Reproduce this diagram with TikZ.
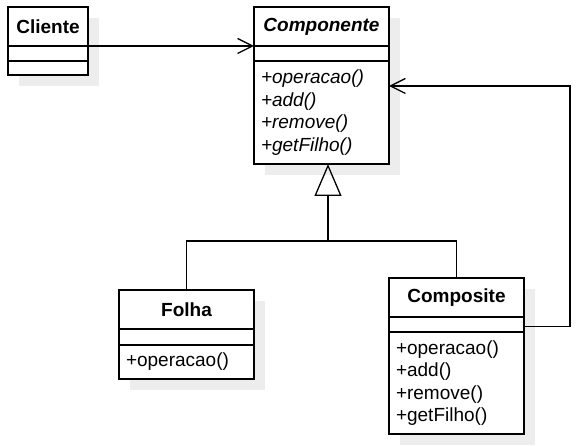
\documentclass[tikz,border=0pt]{standalone}
\usepackage{fontspec}
\setmainfont{Liberation Sans}
\usetikzlibrary{positioning,arrows.meta,backgrounds}
\tikzset{
  cls/.style = {draw, fill=white, line width=1.3pt, outer sep=0pt, minimum width=135pt, inner xsep=7pt, inner ysep=0pt},
  head/.style = {cls, minimum height=39pt, font=\bfseries},
  ops/.style = {cls, align=left, text width=121pt},
  shadowfill/.style = {fill=black!7},
  assoc/.style = {line width=1.3pt, -{Straight Barb[length=15pt,width=15pt]}},
  inherit/.style = {line width=1.3pt, -{Triangle[open,length=32pt,width=27pt]}}
}
\begin{document}
\fontsize{19}{22.5}\selectfont
\begin{tikzpicture}[x=1pt, y=-1pt]
  \useasboundingbox (0,0) rectangle (587,446);

  \node[head, minimum width=80pt, anchor=north west] at (8,7) (cli) {Cliente};
  \node[cls, minimum width=80pt, minimum height=15pt, below=0pt of cli] (cliA) {};
  \node[cls, minimum width=80pt, minimum height=14pt, below=0pt of cliA] (cliO) {};

  \node[head, font=\bfseries\itshape, anchor=north west] at (254,7) (comp) {Componente};
  \node[cls, minimum height=15pt, below=0pt of comp] (compA) {};
  \node[ops, font=\itshape, minimum height=103pt, below=0pt of compA] (compM) {+operacao()\\+add()\\+remove()\\+getFilho()};

  \node[head, anchor=north west] at (119,290) (folha) {Folha};
  \node[cls, minimum height=16pt, below=0pt of folha] (folhaA) {};
  \node[ops, minimum height=34pt, below=0pt of folhaA] (folhaM) {+operacao()};

  \node[head, anchor=north west] at (389,278) (compo) {Composite};
  \node[cls, minimum height=15pt, below=0pt of compo] (compoA) {};
  \node[ops, minimum height=102pt, below=0pt of compoA] (compoM) {+operacao()\\+add()\\+remove()\\+getFilho()};

  \coordinate (join) at (328,241);
  \draw[assoc] (cli.south east) -- (comp.south west);
  \draw[line width=1.3pt] (folha.north) |- (join) -| (compo.north);
  \draw[inherit] (join) -- (join |- compM.south);
  \draw[assoc] ([yshift=-2pt]compoA.east) -- ++(46,0) |- ([yshift=-25pt]compM.north east);

  \begin{scope}[on background layer]
    \fill[white] (0,0) rectangle (587,446);
    \fill[shadowfill] ([shift={(11,11)}]cli.north west) rectangle ([shift={(11,11)}]cliO.south east);
    \fill[shadowfill] ([shift={(11,11)}]comp.north west) rectangle ([shift={(11,11)}]compM.south east);
    \fill[shadowfill] ([shift={(11,11)}]folha.north west) rectangle ([shift={(11,11)}]folhaM.south east);
    \fill[shadowfill] ([shift={(11,11)}]compo.north west) rectangle ([shift={(11,11)}]compoM.south east);
  \end{scope}
\end{tikzpicture}
\end{document}
